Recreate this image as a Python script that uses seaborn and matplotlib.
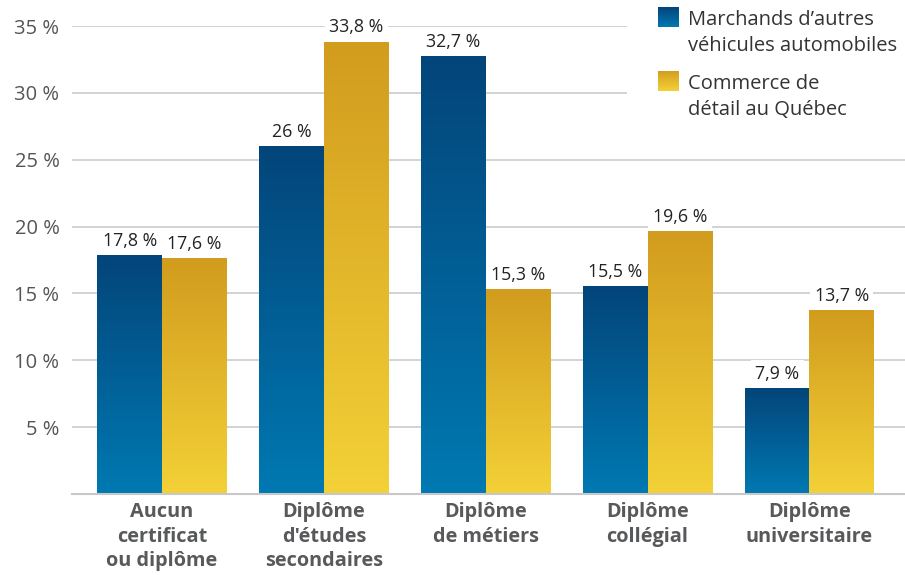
import numpy as np
import pandas as pd
import seaborn as sns
import matplotlib.pyplot as plt
from matplotlib.colors import LinearSegmentedColormap
from matplotlib.patches import Rectangle

niveaux = ["Aucun\ncertificat\nou diplôme", "Diplôme\nd'études\nsecondaires", "Diplôme\nde métiers",
           "Diplôme\ncollégial", "Diplôme\nuniversitaire"]
groupes = ["Marchands d’autres\nvéhicules automobiles", "Commerce de\ndétail au Québec"]
marchands = [17.8, 26, 32.7, 15.5, 7.9]
commerce = [17.6, 33.8, 15.3, 19.6, 13.7]
yticks = [5, 10, 15, 20, 25, 30, 35]

df = pd.DataFrame({
    "niveau": niveaux * 2,
    "groupe": [groupes[0]] * len(niveaux) + [groupes[1]] * len(niveaux),
    "pct": marchands + commerce,
})

sns.set_theme(style="white")
plt.rcParams["font.family"] = ["Open Sans", "DejaVu Sans"]

cmap_blue = LinearSegmentedColormap.from_list("bleu", ["#0079b2", "#03457a"])
cmap_gold = LinearSegmentedColormap.from_list("or", ["#f3d137", "#d29c1e"])
grad = np.linspace(0, 1, 256).reshape(-1, 1)

fig = plt.figure(figsize=(9.05, 5.75), dpi=100)
ax = fig.add_axes([72 / 905, 81 / 575, 833 / 905, 468 / 575])
sns.barplot(data=df, x="niveau", y="pct", hue="groupe", palette=["#03457a", "#d29c1e"],
            width=0.8, ax=ax, legend=False, saturation=1)

vals = marchands + commerce
for i, p in enumerate(ax.patches[:len(vals)]):
    x0, w, h = p.get_x(), p.get_width(), p.get_height()
    cm = cmap_blue if i < len(niveaux) else cmap_gold
    ax.imshow(grad, cmap=cm, extent=[x0, x0 + w, 0, h], origin="lower", aspect="auto", zorder=2)
    p.set_visible(False)
    txt = f"{vals[i]:g}".replace(".", ",") + " %"
    ax.annotate(txt, (x0 + w / 2, h), xytext=(0, 4), textcoords="offset points", ha="center", va="bottom",
                fontsize=12.8, color="#222222", zorder=4, annotation_clip=False,
                bbox=dict(boxstyle="square,pad=0.25", fc="white", ec="none"))

ax.set_xlim(-0.556, 4.59)
ax.set_ylim(0, 35)
ax.set_yticks(yticks)
ax.set_yticklabels([f"{t} %" for t in yticks], fontsize=14.5, color="#555555")
ax.yaxis.grid(True, color="#d3d3d3", lw=1.4)
ax.set_axisbelow(True)
ax.tick_params(axis="y", length=0, pad=9)
ax.tick_params(axis="x", length=0, pad=6)
for lab in ax.get_xticklabels():
    lab.set_fontsize(14.3)
    lab.set_fontweight("bold")
    lab.set_color("#58595b")
    lab.set_linespacing(1.3)
ax.set_xlabel("")
ax.set_ylabel("")
for s in ["left", "right", "top"]:
    ax.spines[s].set_visible(False)
ax.spines["bottom"].set_color("#c8c8c8")
ax.spines["bottom"].set_linewidth(1.5)

# legende
fig.patches.append(Rectangle((627 / 905, 1 - 125 / 575), 278 / 905, 125 / 575,
                             transform=fig.transFigure, fc="white", ec="none", zorder=1))
for k, (cm, top) in enumerate([(cmap_blue, 7), (cmap_gold, 71)]):
    lax = fig.add_axes([658 / 905, 1 - (top + 20) / 575, 21 / 905, 20 / 575], zorder=2)
    lax.imshow(grad, cmap=cm, origin="lower", aspect="auto")
    lax.axis("off")
    fig.text(688 / 905, 1 - (top + 3) / 575, groupes[k], va="top", ha="left",
             fontsize=14.5, color="#333333", linespacing=1.4, zorder=3)

fig.savefig("out.png", dpi=100)
